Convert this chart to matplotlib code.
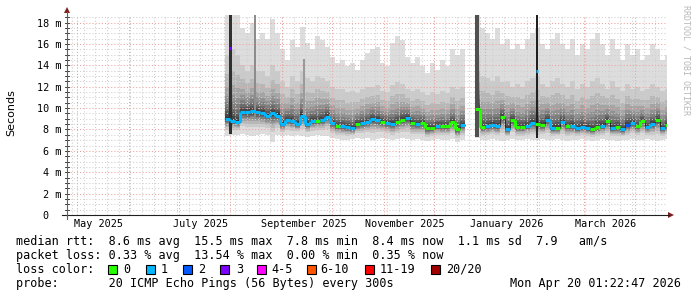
import numpy as np
import matplotlib
matplotlib.use("Agg")
import matplotlib.pyplot as plt
import matplotlib.dates as mdates
from matplotlib.collections import LineCollection
from matplotlib.patches import Rectangle, Polygon
from matplotlib.lines import Line2D
from datetime import datetime, timedelta

# --- data: one value per 3-day step, first step starts 2025-07-29 (None = no data) ---
first_day = datetime(2025, 7, 29)
step_days = 3

median_ms = [9.0, 8.8, 8.7, 9.6, 9.6, 9.7, 9.6, 9.5, 9.3, 9.5,
             9.3, 8.5, 8.9, 8.8, 8.5, 9.3, 8.5, 8.8, 8.8, 8.9,
             9.2, 8.6, 8.3, 8.3, 8.2, 8.1, 8.5, 8.6, 8.7, 9.0,
             8.9, 8.7, 8.6, 8.5, 8.7, 8.9, 9.1, 8.6, 8.5, 8.6,
             8.1, 8.1, 8.3, 8.3, 8.3, 8.7, 8.0, 8.4, None, None,
             9.9, 8.2, 8.3, 8.4, 8.3, 9.2, 8.0, 8.9, 8.2, 8.2,
             8.3, 8.6, 8.5, 8.4, 8.9, 8.1, 8.1, 8.7, 8.3, 8.3,
             8.1, 8.2, 8.1, 8.0, 8.2, 8.3, 8.8, 8.1, 8.2, 8.0,
             8.4, 8.6, 8.3, 8.8, 8.2, 8.5, 8.9, 8.1, 8.4]
# loss bucket index into loss_labels (-1 = no data)
loss_bucket = [1, 1, 1, 1, 1, 1, 1, 1, 1, 1,
               1, 1, 1, 1, 1, 1, 1, 1, 0, 1,
               1, 1, 0, 1, 1, 1, 0, 1, 1, 1,
               1, 0, 1, 1, 0, 0, 1, 0, 1, 0,
               0, 0, 1, 0, 0, 0, 0, 1, -1, -1,
               0, 0, 1, 1, 1, 0, 1, 0, 0, 0,
               1, 1, 0, 0, 1, 1, 0, 1, 0, 1,
               1, 1, 1, 0, 0, 1, 0, 1, 0, 1,
               2, 1, 0, 0, 1, 1, 0, 1, 0]
max_ms = [19.5, 19.5, 19.5, 17.5, 17.0, 18.0, 16.5, 17.0, 16.5, 18.3,
          17.0, 15.5, 14.5, 16.4, 15.7, 17.6, 16.1, 15.5, 16.7, 16.4,
          15.7, 14.8, 14.2, 14.5, 13.9, 14.2, 13.6, 14.5, 15.2, 15.5,
          15.7, 14.2, 13.9, 16.1, 16.7, 16.4, 14.8, 14.2, 14.8, 13.9,
          13.3, 14.2, 13.6, 14.5, 13.9, 15.5, 15.0, 15.5, None, None,
          19.5, 17.5, 17.0, 16.5, 17.5, 16.0, 16.5, 15.5, 16.0, 15.5,
          16.5, 17.0, 17.5, 16.0, 15.5, 16.5, 17.0, 16.0, 15.5, 16.5,
          15.0, 16.0, 15.5, 16.5, 17.0, 16.0, 15.0, 16.5, 15.5, 14.5,
          16.0, 15.0, 15.5, 14.5, 15.0, 16.0, 15.5, 14.5, 15.0]
min_ms = [7.4, 7.5, 7.5, 7.6, 7.5, 7.4, 7.5, 7.6, 7.5, 6.8,
          7.5, 7.4, 7.5, 7.4, 7.5, 7.4, 7.3, 7.4, 7.5, 7.4,
          7.4, 7.2, 7.1, 7.0, 7.0, 7.1, 7.2, 7.1, 7.2, 7.0,
          7.1, 7.2, 7.1, 7.0, 7.1, 7.2, 7.1, 7.0, 7.1, 7.0,
          6.9, 7.0, 7.1, 7.0, 7.0, 7.1, 6.8, 7.0, None, None,
          7.2, 7.0, 7.0, 7.1, 7.0, 6.9, 7.0, 7.1, 7.0, 7.0,
          7.1, 7.0, 7.0, 7.1, 7.0, 7.0, 7.1, 7.0, 6.9, 7.0,
          7.0, 7.1, 7.0, 6.9, 7.0, 7.1, 7.0, 7.0, 6.9, 7.0,
          7.0, 7.1, 7.0, 7.0, 7.1, 7.0, 6.9, 7.0, 7.1]
# 19th of the 20 sorted pings
p19_ms = [15.0, 15.5, 15.0, 14.0, 13.5, 14.0, 13.5, 13.5, 13.0, 14.0,
          13.5, 12.5, 12.0, 13.0, 12.5, 13.5, 12.8, 12.5, 13.0, 12.8,
          12.5, 12.0, 11.8, 11.8, 11.5, 11.6, 11.4, 11.8, 12.0, 12.0,
          12.2, 11.6, 11.5, 12.2, 12.4, 12.3, 11.8, 11.6, 11.8, 11.5,
          11.2, 11.5, 11.3, 11.6, 11.4, 12.0, 11.8, 12.0, None, None,
          15.0, 13.0, 12.8, 12.5, 13.0, 12.4, 12.5, 12.0, 12.3, 12.0,
          12.5, 12.8, 13.0, 12.3, 12.0, 12.5, 12.8, 12.3, 12.0, 12.5,
          11.8, 12.3, 12.0, 12.5, 12.8, 12.3, 11.8, 12.5, 12.0, 11.6,
          12.3, 11.8, 12.0, 11.6, 11.8, 12.3, 12.0, 11.6, 11.8]

# short bursts that show up as single dark columns
burst_days = [datetime(2025, 8, 1), datetime(2025, 8, 16), datetime(2025, 9, 14),
              datetime(2025, 12, 27), datetime(2026, 2, 1)]
burst_lo_ms = [7.6, 9.0, 9.2, 7.3, 7.2]
burst_hi_ms = [19.5, 19.5, 14.6, 19.5, 19.5]
burst_median_ms = [15.6, None, None, None, 13.5]
burst_bucket = [3, -1, -1, -1, 1]

loss_labels = ["0", "1", "2", "3", "4-5", "6-10", "11-19", "20/20"]
loss_colors = ["#26ff00", "#00b8ff", "#0059ff", "#7e00ff",
               "#ff00ff", "#ff5500", "#ff0000", "#a10000"]

legend_rtt = "median rtt:  8.6 ms avg  15.5 ms max  7.8 ms min  8.4 ms now  1.1 ms sd  7.9   am/s"
legend_loss = "packet loss: 0.33 % avg  13.54 % max  0.00 % min  0.35 % now"
legend_probe = "probe:       20 ICMP Echo Pings (56 Bytes) every 300s"
stamp = "Mon Apr 20 01:22:47 2026"

end_time = datetime(2026, 4, 20, 1, 22, 47)
begin_time = end_time - timedelta(days=360)

# --- figure setup (pixel helpers) ---
W, H = 697, 297
MONO = "DejaVu Sans Mono"
fig = plt.figure(figsize=(W / 100, H / 100), dpi=100)
fig.patch.set_facecolor("white")


def fx(x):
    return x / W


def fy(y):
    return 1 - y / H


ax = fig.add_axes([fx(67), fy(215), 600 / W, 200 / H])
ax.set_facecolor("white")
ymax = 200 / 10.69
ax.set_xlim(mdates.date2num(begin_time), mdates.date2num(end_time))
ax.set_ylim(0, ymax)
for s in ax.spines.values():
    s.set_visible(False)

# --- smoke: 10 nested bands between sorted pings ---
n = len(median_ms)
edges = [min(first_day + timedelta(days=step_days * k), end_time) for k in range(n + 1)]
edges_num = mdates.date2num(edges)
xs = np.repeat(edges_num, 2)[1:-1]


def arr(v):
    return np.array([np.nan if a is None else a for a in v], dtype=float)


med = arr(median_ms)
hi = arr(max_ms)
lo = arr(min_ms)
p19 = arr(p19_ms)

lo_frac = [0.35, 0.5, 0.6, 0.68, 0.75, 0.81, 0.87, 0.92, 0.97]
up_frac = [0.03, 0.07, 0.12, 0.18, 0.26, 0.36, 0.5, 0.7]
pings = [lo] + [lo + f * (med - lo) for f in lo_frac] + \
        [med + f * (p19 - med) for f in up_frac] + [p19, hi]

for i in range(1, 11):
    g = 19 * (10 - i) + 50
    col = "#%02x%02x%02x" % (g, g, g)
    ax.fill_between(xs, np.repeat(pings[i - 1], 2), np.repeat(pings[20 - i], 2),
                    color=col, lw=0, zorder=1)

# --- grid ---
for k in range(1, int(ymax / 0.5) + 1):
    v = k * 0.5
    if k % 4 == 0:
        ax.axhline(v, color="#eea29a", lw=0.75, ls=(0, (1, 2)), zorder=2)
    else:
        ax.axhline(v, color="#cfcfcf", lw=0.75, ls=(0, (1, 2)), zorder=2)
d = datetime(2025, 4, 28)
while d < end_time:
    ax.axvline(mdates.date2num(d), color="#cfcfcf", lw=0.75, ls=(0, (1, 2)), zorder=2)
    d += timedelta(days=7)
for yr, mo in [(2025, m) for m in range(5, 13)] + [(2026, m) for m in range(1, 5)]:
    ax.axvline(mdates.date2num(datetime(yr, mo, 1)), color="#eea29a", lw=0.75,
               ls=(0, (1, 2)), zorder=2)

# bursts (drawn over the grid, like the solid columns in the original)
for i, (d, b_lo, b_hi) in enumerate(zip(burst_days, burst_lo_ms, burst_hi_ms)):
    shade = ["#303030", "#8c8c8c", "#9a9a9a", "#505050", "#202020"][i]
    wdt = [1.6, 1.2, 1.2, 2.4, 0.9][i]
    ax.bar(mdates.date2num(d), b_hi - b_lo, bottom=b_lo, width=wdt,
           color=shade, lw=0, zorder=2.5)

# --- median line ---
ax.plot(xs, np.repeat(med, 2), color="#202020", lw=0.6, zorder=3)
segs, cols = [], []
for k in range(n):
    b = loss_bucket[k]
    if b < 0 or np.isnan(med[k]):
        continue
    segs.append([(edges_num[k], med[k]), (edges_num[k + 1], med[k])])
    cols.append(loss_colors[b])
    if k + 1 < n and loss_bucket[k + 1] == b and not np.isnan(med[k + 1]):
        segs.append([(edges_num[k + 1], med[k]), (edges_num[k + 1], med[k + 1])])
        cols.append(loss_colors[b])
ax.add_collection(LineCollection(segs, colors=cols, linewidths=2.2,
                                 capstyle="butt", zorder=4))
for d, m, b in zip(burst_days, burst_median_ms, burst_bucket):
    if m is not None:
        dn = mdates.date2num(d)
        ax.plot([dn - 0.6, dn + 0.6], [m, m], color=loss_colors[b], lw=2.2,
                solid_capstyle="butt", zorder=4)

# --- ticks ---
ax.set_yticks(range(0, 19, 2))
ax.set_yticklabels(["0  "] + ["%d m" % v for v in range(2, 19, 2)],
                   family=MONO, fontsize=7.3)
label_days = [datetime(2025, 5, 14), datetime(2025, 7, 14), datetime(2025, 9, 14),
              datetime(2025, 11, 14), datetime(2026, 1, 14), datetime(2026, 3, 14)]
ax.set_xticks(mdates.date2num(label_days))
ax.set_xticklabels(["May 2025", "July 2025", "September 2025", "November 2025",
                    "January 2026", "March 2026"], family=MONO, fontsize=7.3)
ax.tick_params(axis="y", length=0, pad=4.3)
ax.tick_params(axis="x", length=0, pad=3.0)

# small marks on the y axis
for k in range(0, int(ymax / 0.5) + 1):
    ax.plot([-2 / 600, 2 / 600], [k * 0.5, k * 0.5], transform=ax.get_yaxis_transform(),
            color="#1f1f1f", lw=0.6, clip_on=False, zorder=5)

# axis lines and arrows
fig.add_artist(Line2D([fx(62), fx(669)], [fy(215), fy(215)], color="#1f1f1f", lw=0.8))
fig.add_artist(Line2D([fx(67), fx(67)], [fy(219), fy(12)], color="#606060", lw=0.8))
fig.add_artist(Polygon([(fx(668), fy(212)), (fx(674), fy(215)), (fx(668), fy(218))],
                       closed=True, color="#801f1f", lw=0))
fig.add_artist(Polygon([(fx(64), fy(13)), (fx(67), fy(7)), (fx(70), fy(13))],
                       closed=True, color="#801f1f", lw=0))

# --- texts ---
fig.text(fx(11), fy(113), "Seconds", rotation=90, ha="center", va="center",
         family="DejaVu Sans", fontsize=8)
fig.text(fx(686), fy(5), "RRDTOOL / TOBI OETIKER", rotation=270, ha="center", va="top",
         family=MONO, fontsize=6, color="#b8b8b8")

fs = 8.5
fig.text(fx(16), fy(245), legend_rtt, family=MONO, fontsize=fs, va="baseline")
fig.text(fx(16), fy(259), legend_loss, family=MONO, fontsize=fs, va="baseline")
fig.text(fx(16), fy(273), "loss color:", family=MONO, fontsize=fs, va="baseline")
fig.text(fx(16), fy(287), legend_probe, family=MONO, fontsize=fs, va="baseline")
fig.text(fx(681), fy(287), stamp, family=MONO, fontsize=fs, va="baseline", ha="right")

box_x = [108, 145.5, 183, 220, 257, 307, 365, 431]
txt_x = [123, 161, 198, 236, 271, 320, 380, 446]
for bx, tx, lab, c in zip(box_x, txt_x, loss_labels, loss_colors):
    fig.add_artist(Rectangle((fx(bx), fy(274)), 9 / W, 9 / H, transform=fig.transFigure,
                             facecolor=c, edgecolor="black", lw=0.8))
    fig.text(fx(tx), fy(273), lab, family=MONO, fontsize=fs, va="baseline")

fig.savefig("out.png", dpi=100, facecolor="white")
